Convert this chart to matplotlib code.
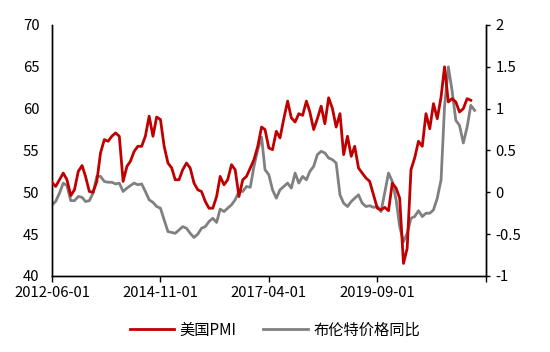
import matplotlib
matplotlib.use("Agg")
import matplotlib.pyplot as plt
import pandas as pd

plt.rcParams['font.family'] = ['Noto Sans CJK SC', 'DejaVu Sans']

pmi = [51.2, 50.7, 51.5, 52.3, 51.5, 49.6, 50.3, 52.5, 53.2, 51.9,
       50.1, 50.0, 51.3, 54.7, 56.3, 56.1, 56.7, 57.1, 56.7, 51.3,
       53.1, 53.7, 54.9, 55.5, 55.5, 56.7, 59.1, 56.7, 59.0, 58.7,
       55.5, 53.5, 52.9, 51.5, 51.5, 52.7, 53.5, 52.9, 51.1, 50.3,
       50.1, 48.9, 48.1, 48.1, 49.5, 51.9, 50.9, 51.5, 53.3, 52.7,
       49.5, 51.5, 51.9, 52.9, 53.9, 55.5, 57.8, 57.5, 55.3, 55.1,
       57.3, 56.5, 58.8, 60.9, 58.9, 58.4, 59.4, 59.2, 60.9, 59.6,
       57.5, 58.8, 60.3, 58.2, 61.3, 60.0, 57.8, 59.4, 54.5, 56.7,
       54.3, 55.5, 52.9, 52.3, 51.7, 51.3, 49.7, 48.1, 47.9, 48.2,
       47.8, 51.1, 50.5, 49.3, 41.5, 43.3, 52.7, 54.1, 56.1, 55.5,
       59.4, 57.6, 60.6, 58.8, 61.4, 65.0, 60.8, 61.2, 60.8, 59.6,
       60.0, 61.2, 61.0]

brent = [-0.15, -0.11, -0.01, 0.11, 0.08, -0.10, -0.10, -0.05, -0.06, -0.11,
         -0.10, -0.01, 0.19, 0.19, 0.13, 0.12, 0.12, 0.10, 0.11, 0.01,
         0.05, 0.08, 0.11, 0.09, 0.10, 0.01, -0.09, -0.12, -0.17, -0.19,
         -0.33, -0.47, -0.48, -0.49, -0.45, -0.41, -0.43, -0.49, -0.54, -0.50,
         -0.43, -0.41, -0.35, -0.31, -0.36, -0.20, -0.23, -0.19, -0.15, -0.09,
         0.01, 0.01, 0.07, 0.06, 0.31, 0.51, 0.66, 0.27, 0.21, 0.03,
         -0.07, 0.03, 0.07, 0.11, 0.05, 0.23, 0.11, 0.19, 0.15, 0.25,
         0.31, 0.45, 0.49, 0.47, 0.41, 0.39, 0.35, -0.03, -0.13, -0.17,
         -0.11, -0.07, -0.03, -0.13, -0.17, -0.16, -0.18, -0.17, -0.23, 0.00,
         0.23, 0.13, -0.09, -0.41, -0.59, -0.49, -0.31, -0.29, -0.22, -0.29,
         -0.25, -0.25, -0.21, -0.07, 0.15, 1.02, 1.50, 1.22, 0.86, 0.80,
         0.59, 0.78, 1.04, 0.98]

start = "2012-06-01"
tick_dates = ["2012-06-01", "2014-11-01", "2017-04-01", "2019-09-01", "2022-02-01"]
tick_labels = ["2012-06-01", "2014-11-01", "2017-04-01", "2019-09-01", ""]
left_ticks = [40, 45, 50, 55, 60, 65, 70]
right_ticks = [-1, -0.5, 0, 0.5, 1, 1.5, 2]
right_labels = ["-1", "-0.5", "0", "0.5", "1", "1.5", "2"]

pmi_dates = pd.date_range(start, periods=len(pmi), freq="MS")
brent_dates = pd.date_range(start, periods=len(brent), freq="MS")

fig = plt.figure(figsize=(5.5, 3.52), dpi=100)
ax = fig.add_axes([0.0945, 0.216, 0.789, 0.713])
ax2 = ax.twinx()

red = "#C00000"
gray = "#808080"

l1, = ax.plot(pmi_dates, pmi, color=red, lw=2.0, label="美国PMI", zorder=3)
l2, = ax2.plot(brent_dates, brent, color=gray, lw=2.0, label="布伦特价格同比", zorder=2)
ax.set_zorder(ax2.get_zorder() + 1)
ax.patch.set_visible(False)

ax.set_xlim(pd.Timestamp(tick_dates[0]), pd.Timestamp(tick_dates[-1]))
ax.set_ylim(40, 70)
ax2.set_ylim(-1, 2)
ax.set_yticks(left_ticks)
ax2.set_yticks(right_ticks)
ax2.set_yticklabels(right_labels)
ax.set_xticks([pd.Timestamp(d) for d in tick_dates])
ax.set_xticklabels(tick_labels)

for a in (ax, ax2):
    a.spines['top'].set_visible(False)
    for s in ('left', 'right', 'bottom'):
        a.spines[s].set_color('black')
        a.spines[s].set_linewidth(1.0)

fs = 10.7
ax.tick_params(axis='y', length=0, labelsize=fs, pad=9)
ax.tick_params(axis='x', direction='out', length=4, width=1, labelsize=fs, pad=3.5)
ax2.tick_params(axis='y', direction='out', length=3, width=1, labelsize=fs, pad=4)

fig.legend(handles=[l1, l2], loc='center', bbox_to_anchor=(0.5, 1 - 330 / 352),
           ncol=2, frameon=False, fontsize=11, handlelength=2.9,
           handletextpad=0.35, columnspacing=1.75)

fig.savefig("out.png", dpi=100)
